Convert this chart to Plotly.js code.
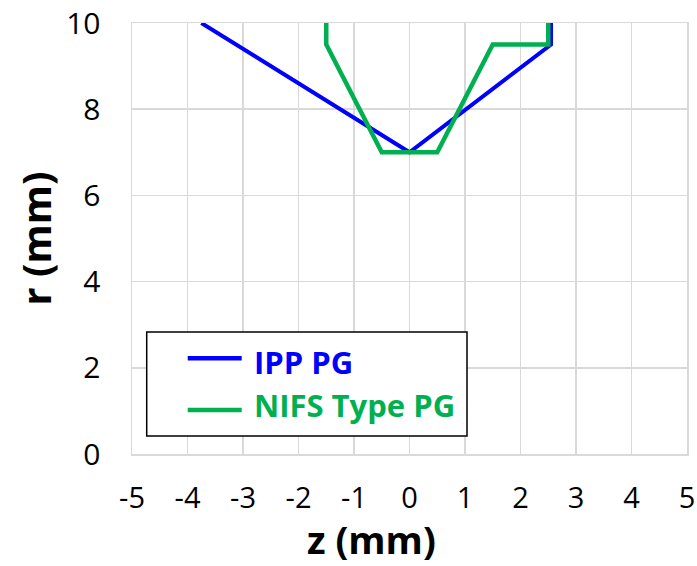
<!DOCTYPE html>
<html>
<head>
<meta charset="utf-8">
<script src="https://cdn.plot.ly/plotly-3.0.1.min.js"></script>
<style>html,body{margin:0;padding:0;background:#fff;}#chart{width:697px;height:566px;}</style>
</head>
<body>
<div id="chart"></div>
<script>
// Data
const ippZ = [-3.75, 0, 2.55, 2.55];
const ippR = [10, 7, 9.5, 10];
const nifsZ = [-1.5, -1.5, -0.5, 0.5, 1.5, 2.5, 2.5];
const nifsR = [10, 9.5, 7, 7, 9.5, 9.5, 10];
const seriesNames = ['IPP PG', 'NIFS Type PG'];
const seriesColors = ['#0000ff', '#00b050'];
const xTicks = [-5, -4, -3, -2, -1, 0, 1, 2, 3, 4, 5];
const yTicks = [0, 2, 4, 6, 8, 10];
const xTitle = 'z (mm)';
const yTitle = 'r (mm)';

const FONT = 'Open Sans, Noto Sans, sans-serif';

const traces = [
  {x: ippZ, y: ippR, name: seriesNames[0], mode: 'lines', type: 'scatter',
   line: {color: seriesColors[0], width: 4}, showlegend: false},
  {x: nifsZ, y: nifsR, name: seriesNames[1], mode: 'lines', type: 'scatter',
   line: {color: seriesColors[1], width: 4.5}, showlegend: false}
];

// Legend drawn manually (box, sample lines, labels) in paper coordinates
const legX0 = 0.0265, legX1 = 0.6036, legY0 = 0.0418, legY1 = 0.283;
const sampleX0 = 0.1004, sampleX1 = 0.1977, textX = 0.2170;
const rowY = [0.222, 0.102];
const rowTextY = [0.214, 0.114];

const shapes = [
  {type: 'rect', xref: 'paper', yref: 'paper', x0: legX0, x1: legX1, y0: legY0, y1: legY1,
   line: {color: '#000000', width: 1.5}, fillcolor: '#ffffff', layer: 'above'}
];
const annotations = [];
seriesNames.forEach((n, i) => {
  shapes.push({type: 'line', xref: 'paper', yref: 'paper', x0: sampleX0, x1: sampleX1,
    y0: rowY[i], y1: rowY[i], line: {color: seriesColors[i], width: 4.5}, layer: 'above'});
  annotations.push({xref: 'paper', yref: 'paper', x: textX, y: rowTextY[i], xanchor: 'left', yanchor: 'middle',
    text: '<b>' + n + '</b>', showarrow: false, font: {family: FONT, size: 31, color: seriesColors[i]}});
});
annotations.push({xref: 'paper', yref: 'paper', x: 0.4324, y: -0.2599, xanchor: 'center', yanchor: 'bottom',
  text: '<b>' + xTitle + '</b>', showarrow: false, borderpad: 0, font: {family: FONT, size: 38, color: '#000'}});

const layout = {
  width: 697, height: 566,
  margin: {l: 132, r: 10, t: 23, b: 112},
  paper_bgcolor: '#ffffff', plot_bgcolor: '#ffffff',
  font: {family: FONT, color: '#000'},
  showlegend: false,
  xaxis: {
    range: [-5, 5], tickvals: xTicks, ticktext: xTicks.map(String),
    showgrid: true, gridcolor: '#d9d9d9', gridwidth: 1.5,
    zeroline: false, showline: true, linecolor: '#d9d9d9', linewidth: 1.5, mirror: true,
    ticks: '', ticklabelstandoff: 18,
    tickfont: {family: FONT, size: 29, color: '#000'}
  },
  yaxis: {
    range: [0, 10], tickvals: yTicks, ticktext: yTicks.map(String),
    showgrid: true, gridcolor: '#d9d9d9', gridwidth: 1.5,
    zeroline: false, showline: true, linecolor: '#d9d9d9', linewidth: 1.5, mirror: true,
    ticks: '', ticklabelstandoff: 24,
    tickfont: {family: FONT, size: 30, color: '#000'},
    title: {text: '<b>' + yTitle + '</b>', standoff: 2, font: {family: FONT, size: 40, color: '#000'}}
  },
  shapes: shapes,
  annotations: annotations
};

Plotly.newPlot('chart', traces, layout, {displayModeBar: false, staticPlot: true});
</script>
</body>
</html>
